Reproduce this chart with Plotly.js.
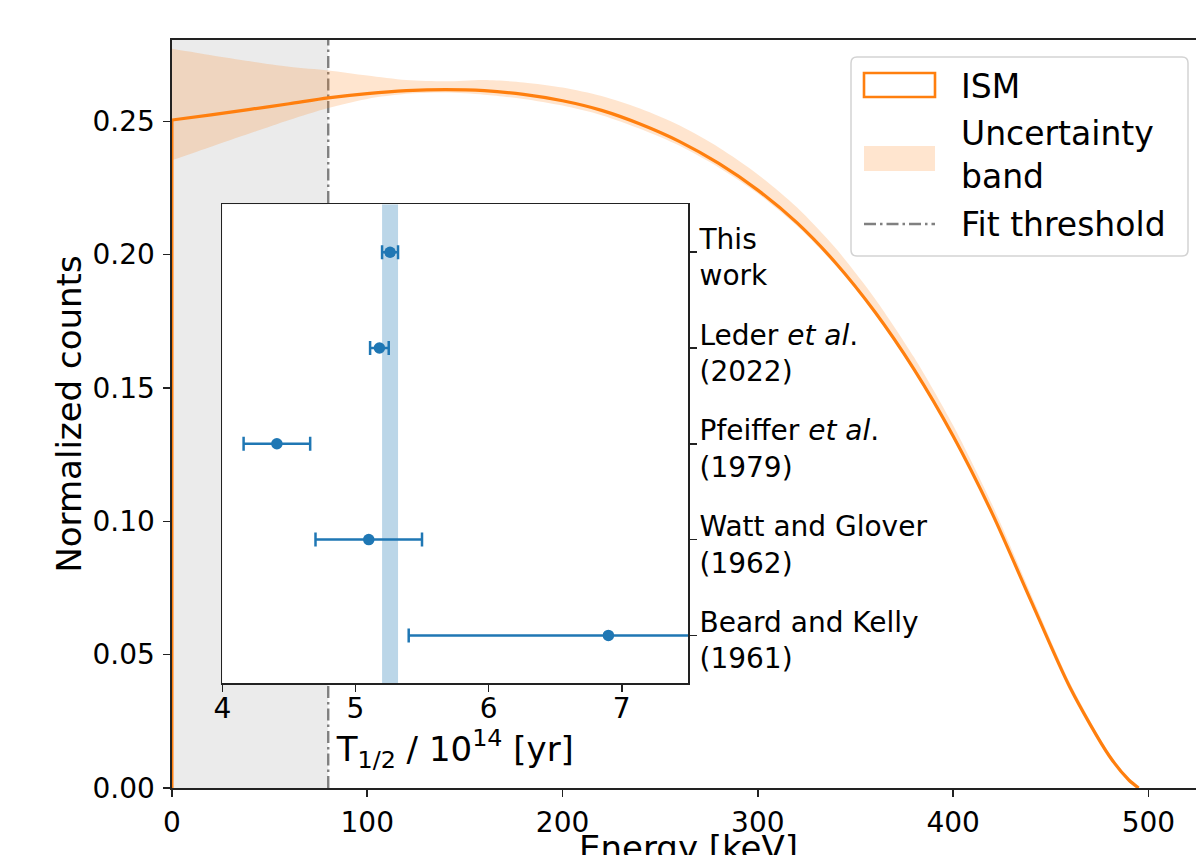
<!DOCTYPE html>
<html>
<head>
<meta charset="utf-8">
<script src="https://cdn.plot.ly/plotly-3.0.1.min.js"></script>
<style>
  html, body { margin: 0; padding: 0; overflow: hidden; background: #fff; }
  #chart { width: 1240px; height: 900px; }
</style>
</head>
<body>
<div id="chart"></div>
<script>
// ---------------- data ----------------
const energy = [0, 20, 40, 60, 80, 100, 120, 140, 160, 180, 200, 220, 240, 260, 280, 300, 320, 340, 360, 380, 400, 420, 440, 460, 480, 490, 495];
const ismCounts = [0.2505, 0.2524, 0.2545, 0.2566, 0.2588, 0.2604, 0.2615, 0.2619, 0.2615, 0.2601, 0.2577, 0.2541, 0.2489, 0.2424, 0.2342, 0.2242, 0.2120, 0.1968, 0.1785, 0.1570, 0.1320, 0.1030, 0.0700, 0.0375, 0.0120, 0.0030, 0.0];
const bandLower = [0.2354, 0.2405, 0.2455, 0.2505, 0.2550, 0.2584, 0.2603, 0.2608, 0.2600, 0.2584, 0.2559, 0.2523, 0.2471, 0.2408, 0.2327, 0.2229, 0.2108, 0.1958, 0.1777, 0.1564, 0.1315, 0.1026, 0.0697, 0.0373, 0.0119, 0.0030, 0.0];
const bandUpper = [0.2772, 0.2748, 0.2725, 0.2705, 0.2691, 0.2672, 0.2655, 0.2650, 0.2655, 0.2646, 0.2627, 0.2595, 0.2547, 0.2484, 0.2402, 0.2301, 0.2178, 0.2023, 0.1835, 0.1615, 0.1360, 0.1063, 0.0725, 0.0393, 0.0130, 0.0034, 0.0];
const fitThreshold = 80;

const mainXTicks = [0, 100, 200, 300, 400, 500];
const mainYTicks = [0.00, 0.05, 0.10, 0.15, 0.20, 0.25];

const measurementLabels = [
  'Beard and Kelly<br>(1961)',
  'Watt and Glover<br>(1962)',
  'Pfeiffer <i>et al</i>.<br>(1979)',
  'Leder <i>et al</i>.<br>(2022)',
  'This<br>work'
];
const halfLife = [6.90, 5.10, 4.41, 5.18, 5.26];
const halfLifeErr = [1.50, 0.40, 0.25, 0.07, 0.06];
const insetXTicks = [4, 5, 6, 7];

const legendLabels = ['ISM', 'Uncertainty<br>band', 'Fit threshold'];
const xTitle = 'Energy [keV]';

// ---------------- layout geometry ----------------
const W = 1240, H = 900;
const M = { l: 172, r: 35, t: 40, b: 112 };
const X_RANGE = [0, 529];
const Y_RANGE = [0, 0.2805];
const INSET_X_RANGE = [4, 7.5];
const INSET_Y_RANGE = [-0.5, measurementLabels.length - 0.5];
const plotW = W - M.l - M.r, plotH = H - M.t - M.b;
const px2paperX = v => (v - M.l) / plotW;
const px2paperY = v => (H - M.b - v) / plotH;

const ORANGE = '#ff7f0e';
const BLUE = '#1f77b4';
const AXC = '#222222';
const FONT = 'DejaVu Sans, Liberation Sans, sans-serif';

const catIdx = measurementLabels.map((_, i) => i);

const traces = [
  { x: energy, y: bandLower, mode: 'lines', line: { width: 0, shape: 'spline', smoothing: 0.8 },
    hoverinfo: 'skip', showlegend: false },
  { x: energy, y: bandUpper, mode: 'lines', line: { width: 0, shape: 'spline', smoothing: 0.8 },
    fill: 'tonexty', fillcolor: 'rgba(255,127,14,0.2)', hoverinfo: 'skip', showlegend: false },
  { x: [energy[0], energy[0]], y: [0, ismCounts[0]], mode: 'lines',
    line: { color: ORANGE, width: 3 }, showlegend: false, hoverinfo: 'skip' },
  { x: energy, y: ismCounts, mode: 'lines', name: 'ISM',
    line: { color: ORANGE, width: 3.2, shape: 'spline', smoothing: 0.8 }, showlegend: false },
  { x: halfLife, y: catIdx, xaxis: 'x2', yaxis: 'y2', mode: 'markers', type: 'scatter',
    marker: { color: BLUE, size: 11.5 },
    error_x: { type: 'data', array: halfLifeErr, visible: true, color: BLUE, thickness: 2.5, width: 7 },
    showlegend: false }
];

// legend drawn with shapes + annotations
const lb = { x0: px2paperX(851), x1: px2paperX(1188), y0: px2paperY(256), y1: px2paperY(57) };
const rx = 6 / plotW, ry = 6 / plotH;
const boxPath = `M ${lb.x0 + rx},${lb.y1} L ${lb.x1 - rx},${lb.y1} Q ${lb.x1},${lb.y1} ${lb.x1},${lb.y1 - ry} ` +
  `L ${lb.x1},${lb.y0 + ry} Q ${lb.x1},${lb.y0} ${lb.x1 - rx},${lb.y0} L ${lb.x0 + rx},${lb.y0} ` +
  `Q ${lb.x0},${lb.y0} ${lb.x0},${lb.y0 + ry} L ${lb.x0},${lb.y1 - ry} Q ${lb.x0},${lb.y1} ${lb.x0 + rx},${lb.y1} Z`;

const sw = { x0: px2paperX(864), x1: px2paperX(935) };
const textX = px2paperX(959);

const shapes = [
  // fit region (below threshold)
  { type: 'rect', xref: 'x', yref: 'y', x0: energy[0], x1: fitThreshold, y0: Y_RANGE[0], y1: Y_RANGE[1],
    fillcolor: '#ebebeb', line: { width: 0 }, layer: 'below' },
  // fit threshold line
  { type: 'line', xref: 'x', yref: 'y', x0: fitThreshold, x1: fitThreshold, y0: Y_RANGE[0], y1: Y_RANGE[1],
    line: { color: 'gray', width: 2.4, dash: '12px,4px,2.5px,4px' }, layer: 'below' },
  // inset: "this work" band
  { type: 'rect', xref: 'x2', yref: 'y2',
    x0: halfLife[4] - halfLifeErr[4], x1: halfLife[4] + halfLifeErr[4],
    y0: INSET_Y_RANGE[0], y1: INSET_Y_RANGE[1],
    fillcolor: 'rgba(31,119,180,0.3)', line: { width: 0 }, layer: 'below' },
  // legend frame
  { type: 'path', xref: 'paper', yref: 'paper', path: boxPath,
    fillcolor: 'rgba(255,255,255,0.8)', line: { color: '#d3d3d3', width: 1.5 }, layer: 'above' },
  // legend swatches
  { type: 'rect', xref: 'paper', yref: 'paper', x0: sw.x0, x1: sw.x1, y0: px2paperY(97), y1: px2paperY(73),
    fillcolor: 'rgba(255,255,255,0)', line: { color: ORANGE, width: 2.6 }, layer: 'above' },
  { type: 'rect', xref: 'paper', yref: 'paper', x0: sw.x0, x1: sw.x1, y0: px2paperY(171), y1: px2paperY(146),
    fillcolor: 'rgba(255,127,14,0.2)', line: { width: 0 }, layer: 'above' },
  { type: 'line', xref: 'paper', yref: 'paper', x0: sw.x0, x1: sw.x1, y0: px2paperY(224), y1: px2paperY(224),
    line: { color: 'gray', width: 2.4, dash: '12px,4px,2.5px,4px' }, layer: 'above' }
];

const annotations = [
  { text: legendLabels[0], xref: 'paper', yref: 'paper', x: textX, y: px2paperY(86), xanchor: 'left', yanchor: 'middle',
    showarrow: false, align: 'left', font: { size: 33, color: '#000' } },
  { text: legendLabels[1], xref: 'paper', yref: 'paper', x: textX, y: px2paperY(155), xanchor: 'left', yanchor: 'middle',
    showarrow: false, align: 'left', font: { size: 33, color: '#000' } },
  { text: legendLabels[2], xref: 'paper', yref: 'paper', x: textX, y: px2paperY(224), xanchor: 'left', yanchor: 'middle',
    showarrow: false, align: 'left', font: { size: 33, color: '#000' } },
  // main x-axis title (placed explicitly so it sits where the reference has it)
  { text: xTitle, xref: 'paper', yref: 'paper', x: 0.5, y: px2paperY(848), xanchor: 'center', yanchor: 'middle',
    showarrow: false, borderpad: 0, font: { size: 34, color: '#000' } }
];

const axisCommon = {
  showline: true, linecolor: AXC, linewidth: 1.6, mirror: true,
  ticks: 'outside', ticklen: 7, tickwidth: 1.6, tickcolor: AXC,
  showgrid: false, zeroline: false, tickfont: { size: 28, color: '#000' }
};

const layout = {
  width: W, height: H,
  margin: M,
  paper_bgcolor: '#ffffff', plot_bgcolor: '#ffffff',
  font: { family: FONT, color: '#000' },
  showlegend: false,
  xaxis: Object.assign({}, axisCommon, {
    range: X_RANGE, tickmode: 'array', tickvals: mainXTicks,
    anchor: 'y', ticklabelstandoff: 2
  }),
  yaxis: Object.assign({}, axisCommon, {
    range: Y_RANGE, tickmode: 'array', tickvals: mainYTicks, tickformat: '.2f',
    title: { text: 'Normalized counts', font: { size: 34 }, standoff: 0 },
    anchor: 'x', ticklabelstandoff: 3
  }),
  xaxis2: Object.assign({}, axisCommon, {
    domain: [px2paperX(222.3), px2paperX(688.3)], anchor: 'y2',
    range: INSET_X_RANGE, tickmode: 'array', tickvals: insetXTicks,
    title: { text: 'T<sub>1/2</sub> / 10<sup>14</sup> [yr]', font: { size: 34 }, standoff: 1 },
    ticklabelstandoff: -8
  }),
  yaxis2: Object.assign({}, axisCommon, {
    domain: [px2paperY(683.3), px2paperY(204.3)], anchor: 'x2', side: 'right',
    range: INSET_Y_RANGE, tickmode: 'array', tickvals: catIdx, ticktext: measurementLabels,
    ticklabelstandoff: -3, ticklabelshift: 5
  }),
  shapes: shapes,
  annotations: annotations
};

Plotly.newPlot('chart', traces, layout, { displayModeBar: false, staticPlot: true });
</script>
</body>
</html>
